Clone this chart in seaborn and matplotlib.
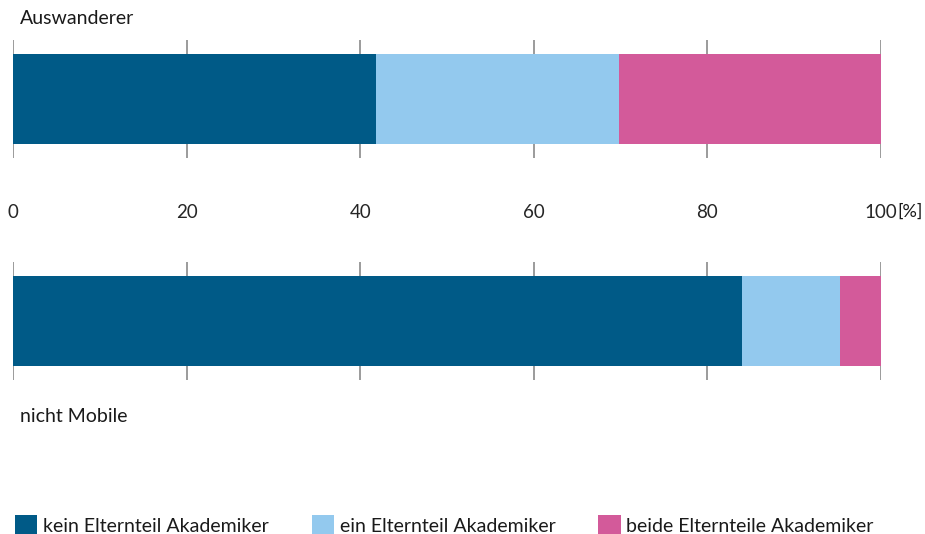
import matplotlib
matplotlib.use("Agg")
import matplotlib.pyplot as plt
import seaborn as sns
import pandas as pd
import numpy as np
from matplotlib.patches import Patch

categories = ["kein Elternteil Akademiker", "ein Elternteil Akademiker", "beide Elternteile Akademiker"]
colors = ["#005a87", "#93c9ee", "#d35a9a"]
groups = ["Auswanderer", "nicht Mobile"]
auswanderer = [41.8, 28.0, 30.2]
nicht_mobile = [84.0, 11.3, 4.7]
ticks = [0, 20, 40, 60, 80, 100]

sns.set_theme(style="white")
plt.rcParams["font.family"] = ["Lato", "DejaVu Sans"]
plt.rcParams["text.color"] = "#1a1a1a"


def draw_stack(ax, group, values):
    # stacked bar: draw cumulative widths from the longest down
    cum = np.cumsum(values)
    df = pd.DataFrame({"group": [group] * len(values), "end": cum, "cat": categories})
    for i in reversed(range(len(values))):
        sns.barplot(data=df.iloc[[i]], x="end", y="group", color=colors[i],
                    orient="h", width=0.765, saturation=1, linewidth=0, ax=ax)
    ax.set_xlim(0, 100)
    ax.set_ylim(0.5, -0.5)
    ax.set_xticks(ticks)
    ax.grid(axis="x", color="#8a8a8a", linewidth=1.2)
    ax.grid(axis="y", visible=False)
    ax.set_axisbelow(True)
    for s in ax.spines.values():
        s.set_visible(False)
    ax.set_yticks([])
    ax.set_xlabel("")
    ax.set_ylabel("")


fig = plt.figure(figsize=(9.25, 5.34), dpi=100)
ax1 = fig.add_axes([13 / 925, 1 - 158 / 534, 868 / 925, 118 / 534])
ax2 = fig.add_axes([13 / 925, 1 - 380 / 534, 868 / 925, 118 / 534])

draw_stack(ax1, groups[0], auswanderer)
draw_stack(ax2, groups[1], nicht_mobile)

fs = 14
tfs = 13.5
ax1.set_xticklabels([str(t) for t in ticks], fontsize=tfs)
ax1.tick_params(axis="x", length=0, pad=33)
ax2.set_xticklabels([])
ax2.tick_params(axis="x", length=0)

fig.text(923 / 925, 1 - 212 / 534, "[%]", fontsize=tfs - 0.5, va="center", ha="right")
fig.text(20 / 925, 1 - 18 / 534, groups[0], fontsize=fs, va="center", ha="left")
fig.text(20 / 925, 1 - 416 / 534, groups[1], fontsize=fs, va="center", ha="left")

handles = [Patch(facecolor=c, edgecolor="none") for c in colors]
fig.legend(handles, categories, loc="center left", bbox_to_anchor=(7 / 925, 1 - 525 / 534),
           ncol=3, frameon=False, fontsize=fs, handlelength=1.15, handleheight=1.15,
           handletextpad=0.3, columnspacing=2.2, borderaxespad=0)

fig.savefig("out.png", dpi=100)
